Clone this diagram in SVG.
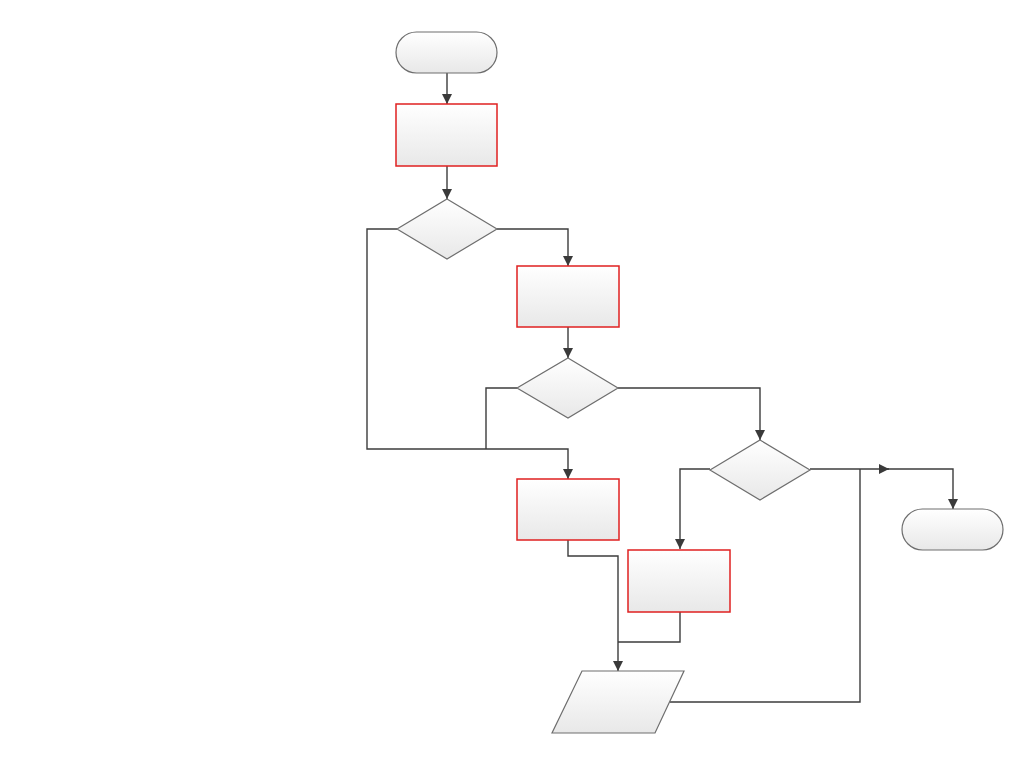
<svg xmlns="http://www.w3.org/2000/svg" width="1024" height="767" viewBox="0 0 1024 767">
<defs>
<linearGradient id="g" x1="0" y1="0" x2="0" y2="1">
<stop offset="0" stop-color="#ffffff"/>
<stop offset="1" stop-color="#e8e8e8"/>
</linearGradient>
<marker id="ah" viewBox="0 0 10 10" refX="10" refY="5" markerWidth="10" markerHeight="10" markerUnits="userSpaceOnUse" orient="auto">
<path d="M0,0 L10,5 L0,10 Z" fill="#3a3a3a"/>
</marker>
</defs>
<style>
.sh{fill:url(#g);stroke:#6e6e6e;stroke-width:1.2}
.pr{fill:url(#g);stroke:#e02020;stroke-width:1.5}
.c{fill:none;stroke:#3c3c3c;stroke-width:1.4}
</style>
<rect width="1024" height="767" fill="#ffffff"/>
<g id="connectors">
<path class="c" d="M447,73 V104" marker-end="url(#ah)"/>
<path class="c" d="M447,166 V199" marker-end="url(#ah)"/>
<path class="c" d="M497,229 H568 V266" marker-end="url(#ah)"/>
<path class="c" d="M397,229 H367 V449 H568 V479" marker-end="url(#ah)"/>
<path class="c" d="M568,327 V358" marker-end="url(#ah)"/>
<path class="c" d="M517,388 H486 V449"/>
<path class="c" d="M618,388 H760 V440" marker-end="url(#ah)"/>
<path class="c" d="M810,469 H889" marker-end="url(#ah)"/>
<path class="c" d="M886,469 H953 V509" marker-end="url(#ah)"/>
<path class="c" d="M710,469 H680 V549" marker-end="url(#ah)"/>
<path class="c" d="M568,540 V556 H618 V671" marker-end="url(#ah)"/>
<path class="c" d="M680,612 V642 H618"/>
<path class="c" d="M670,702 H860 V469"/>
</g>
<g id="start"><rect class="sh" x="396" y="32" width="101" height="41" rx="20.5"/></g>
<g id="process1"><rect class="pr" x="396" y="104" width="101" height="62"/></g>
<g id="decision1"><polygon class="sh" points="447,199 497,229 447,259 397,229"/></g>
<g id="process2"><rect class="pr" x="517" y="266" width="102" height="61"/></g>
<g id="decision2"><polygon class="sh" points="568,358 618,388 568,418 517,388"/></g>
<g id="decision3"><polygon class="sh" points="760,440 810,470 760,500 710,470"/></g>
<g id="process3"><rect class="pr" x="517" y="479" width="102" height="61"/></g>
<g id="process4"><rect class="pr" x="628" y="550" width="102" height="62"/></g>
<g id="io"><polygon class="sh" points="582,671 684,671 655,733 552,733"/></g>
<g id="end"><rect class="sh" x="902" y="509" width="101" height="41" rx="20.5"/></g>
</svg>
